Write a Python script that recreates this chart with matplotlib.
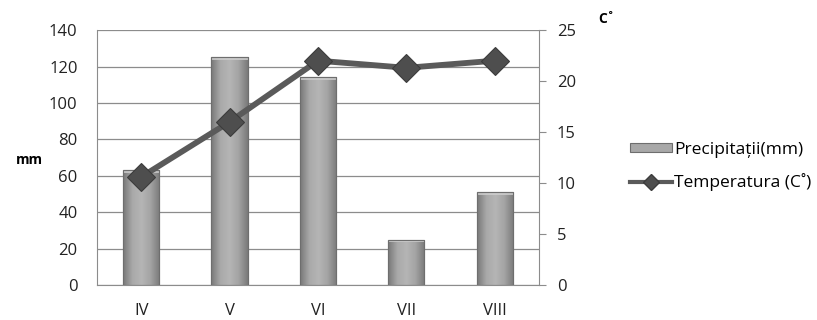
import matplotlib
matplotlib.use("Agg")
import matplotlib.pyplot as plt
from matplotlib.patches import Rectangle
from matplotlib.lines import Line2D
from matplotlib.colors import LinearSegmentedColormap
import numpy as np

plt.rcParams['font.family'] = ['Open Sans', 'DejaVu Sans']

luni = ["IV", "V", "VI", "VII", "VIII"]
precipitatii = [63, 125, 114, 25, 51]
temperatura = [10.6, 16.0, 22.0, 21.3, 22.0]

fig = plt.figure(figsize=(8.17, 3.2), dpi=100)
ax = fig.add_axes([0.1187, 0.109, 0.541, 0.797])
ax2 = ax.twinx()

x = np.arange(len(luni))
bare = ax.bar(x, precipitatii, width=0.41, color="#9c9c9c",
              edgecolor="#6e6e6e", linewidth=0.8, zorder=2)

# gradient pe bare
cmap = LinearSegmentedColormap.from_list(
    "bara", ["#787878", "#a9a9a9", "#b5b5b5", "#a4a4a4", "#7a7a7a"])
grad = np.linspace(0, 1, 64).reshape(1, -1)
for b in bare:
    x0, w, h = b.get_x(), b.get_width(), b.get_height()
    im = ax.imshow(grad, cmap=cmap, aspect="auto",
                   extent=(x0, x0 + w, 0, h), zorder=2.1)
    im.set_clip_path(b)
    # capac luminos sus
    ax.add_patch(Rectangle((x0, h - 1.6), w, 1.6, facecolor="#cfcfcf",
                           edgecolor="none", alpha=0.8, zorder=2.2))
    ax.add_patch(Rectangle((x0, 0), w, h, facecolor="none",
                           edgecolor="#6e6e6e", linewidth=0.8, zorder=2.3))

ax.set_xlim(-0.5, len(luni) - 0.5)
ax.set_ylim(0, 140)
ax.set_yticks(range(0, 141, 20))
ax.set_xticks(x)
ax.set_xticklabels(luni)
ax.grid(axis="y", color="#8c8c8c", linewidth=0.9, zorder=0)
ax.set_axisbelow(True)
ax.tick_params(axis="y", length=0, pad=14, labelsize=12, colors="#222222")
ax.tick_params(axis="x", length=0, pad=13, labelsize=12, colors="#222222")
for s in ["top", "right"]:
    ax.spines[s].set_visible(False)
ax.spines["left"].set_color("#8c8c8c")
ax.spines["bottom"].set_color("#8c8c8c")

ax2.plot(x, temperatura, color="#5a5a5a", linewidth=4.2, marker="D",
         markersize=14, markerfacecolor="#4e4e4e", markeredgecolor="#3c3c3c",
         markeredgewidth=0.8, zorder=5)
ax2.set_ylim(0, 25)
ax2.set_yticks(range(0, 26, 5))
ax2.tick_params(axis="y", length=5, pad=8, labelsize=12, colors="#222222",
                color="#8c8c8c")
for s in ["top", "left", "bottom"]:
    ax2.spines[s].set_visible(False)
ax2.spines["right"].set_color("#8c8c8c")

fig.text(0.036, 0.5, "mm", fontsize=10, fontweight="bold", ha="center", va="center")
fig.text(0.742, 0.94, "C˚", fontsize=10, fontweight="bold", ha="center", va="center")

handles = [
    Rectangle((0, 0), 1, 1, facecolor="#a8a8a8", edgecolor="#6e6e6e", linewidth=0.8),
    Line2D([0], [0], color="#5a5a5a", linewidth=3, marker="D", markersize=8,
           markerfacecolor="#4e4e4e", markeredgecolor="#3c3c3c"),
]
fig.legend(handles, ["Precipitații(mm)", "Temperatura (C˚)"],
           loc="center left", bbox_to_anchor=(0.771, 0.48), frameon=False,
           fontsize=12.5, handlelength=2.4, handleheight=0.4, handletextpad=0.15,
           labelspacing=0.9, borderaxespad=0, borderpad=0)

fig.savefig("out.png", dpi=100)
